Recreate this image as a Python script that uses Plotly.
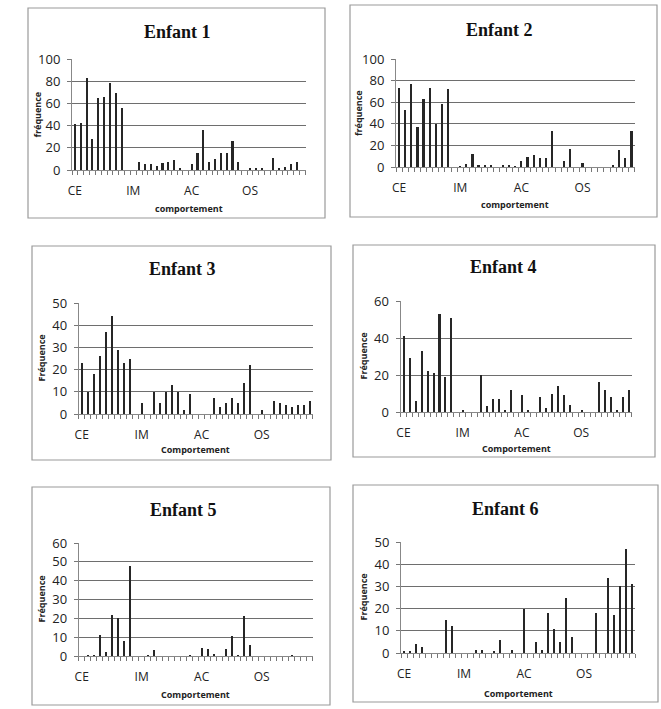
import plotly.graph_objects as go

W, H = 661, 709

tick_labels = ["CE", "IM", "AC", "OS"]
tick_cats = [1, 11, 21, 31]

enfant1 = [41, 42, 83, 28, 65, 66, 78, 69, 56, 0,
           0, 7, 5, 5, 4, 6, 7, 9, 1, 0,
           5, 15, 36, 7, 10, 15, 15, 26, 7, 0,
           2, 2, 1, 0, 11, 2, 3, 5, 7, 0]
enfant2 = [73, 53, 77, 37, 63, 73, 40, 58, 72, 0,
           0.5, 3, 12, 1.5, 1.5, 1.5, 0, 1, 1, 0.5,
           6, 9, 11, 8, 8, 33, 0, 6, 17, 0,
           4, 0, 0, 0, 0, 1, 16, 8, 33]
enfant3 = [23, 10, 18, 26, 37, 44, 29, 23, 25, 0,
           5, 0, 10, 5, 10, 13, 10, 2, 9, 0,
           0, 0, 7, 3, 5, 7, 5, 14, 22, 0,
           2, 0, 6, 5, 4, 3, 4, 4, 6]
enfant4 = [41, 29, 6, 33, 22, 21, 53, 19, 51, 0,
           1, 0, 0, 20, 3, 7, 7, 1, 12, 0,
           9, 1, 0, 8, 2, 10, 14, 9, 4, 0,
           1, 0, 0, 16, 12, 8, 1, 8, 12]
enfant5 = [0, 0.5, 0.5, 11, 2, 22, 20, 8, 48, 0,
           0, 0.5, 3, 0, 0, 0, 0, 0, 0.5, 0,
           4, 3.5, 1, 0, 3.5, 10.5, 0.5, 21.5, 6, 0,
           0, 0, 0, 0, 0, 0.5, 0, 0, 0]
enfant6 = [0.5, 0.5, 4, 2.5, 0, 0, 0, 15, 12, 0,
           0, 0, 1.5, 1.5, 0, 0.5, 6, 0, 1.5, 0,
           20, 0, 5, 1.5, 18, 11, 5, 25, 7, 0,
           0, 0, 18, 0, 34, 17, 30, 47, 31]

titles = ["Enfant 1", "Enfant 2", "Enfant 3", "Enfant 4", "Enfant 5", "Enfant 6"]
ytitles = ["fréquence", "fréquence", "Fréquence", "Fréquence", "Fréquence", "Fréquence"]
xtitles = ["comportement", "comportement", "Comportement", "Comportement", "Comportement", "Comportement"]
series = [enfant1, enfant2, enfant3, enfant4, enfant5, enfant6]
yranges = [(100, 20), (100, 20), (50, 10), (60, 20), (60, 10), (50, 10)]

# layout geometry in pixels: box (x0,y0,x1,y1), plot (x0,x1,ytop,ybottom), title x,y, xtitle y, ytitle x
panels = [
    dict(box=(28, 8, 325, 218), plot=(72, 305.5, 59, 170), tx=177, ty=32, xty=208, ytx=37),
    dict(box=(350, 5, 657, 217), plot=(396, 634.5, 59, 167), tx=500, ty=30, xty=204, ytx=359),
    dict(box=(32, 246, 331, 460), plot=(78.7, 312.7, 303, 414), tx=182, ty=269, xty=449, ytx=41),
    dict(box=(353, 245, 655, 457), plot=(400.5, 631.5, 301, 412), tx=503, ty=267, xty=448, ytx=363),
    dict(box=(32, 487, 330, 705), plot=(78.7, 312.7, 543, 656), tx=183, ty=510, xty=694, ytx=41),
    dict(box=(353, 485, 658, 702), plot=(401, 635, 542, 653), tx=505, ty=509, xty=693, ytx=363),
]

fig = go.Figure()
shapes, annotations = [], []
fx = lambda px: px / W
fy = lambda py: 1 - py / H

for i, (vals, p) in enumerate(zip(series, panels)):
    k = i + 1
    xa = "x" if k == 1 else f"x{k}"
    ya = "y" if k == 1 else f"y{k}"
    n = len(vals)
    cats = list(range(1, n + 1))
    fig.add_trace(go.Bar(x=cats, y=vals, xaxis=xa, yaxis=ya, width=0.36,
                         marker=dict(color="#262626", line=dict(width=0)),
                         showlegend=False, hoverinfo="x+y"))
    x0, x1, yt, yb = p["plot"]
    ymax, dt = yranges[i]
    xkey = "xaxis" if k == 1 else f"xaxis{k}"
    ykey = "yaxis" if k == 1 else f"yaxis{k}"
    fig.layout[xkey] = dict(domain=[fx(x0), fx(x1)], anchor=ya, range=[0.5, n + 0.5],
                            tickmode="array", tickvals=tick_cats, ticktext=tick_labels,
                            ticks="", showgrid=False, showline=True, linecolor="#888",
                            linewidth=1, zeroline=False, automargin=False,
                            tickfont=dict(family="Open Sans", size=12, color="#222"),
                            ticklabelstandoff=10,
                            minor=dict(tickmode="linear", tick0=0.5, dtick=1, ticks="outside",
                                       ticklen=4, tickcolor="#777", tickwidth=1, showgrid=False),
                            fixedrange=True)
    fig.layout[ykey] = dict(domain=[fy(yb), fy(yt)], anchor=xa, range=[0, ymax],
                            tickmode="linear", tick0=0, dtick=dt, showgrid=True,
                            gridcolor="#6e6e6e", gridwidth=1, showline=True,
                            linecolor="#888", linewidth=1, ticks="outside", ticklen=4,
                            tickcolor="#777", zeroline=False, automargin=False,
                            ticklabelstandoff=4,
                            tickfont=dict(family="Open Sans", size=13, color="#222"),
                            fixedrange=True)
    bx0, by0, bx1, by1 = p["box"]
    shapes.append(dict(type="rect", xref="paper", yref="paper", x0=fx(bx0), x1=fx(bx1),
                       y0=fy(by1), y1=fy(by0), line=dict(color="#9a9a9a", width=1.2),
                       fillcolor="rgba(0,0,0,0)", layer="below"))
    annotations.append(dict(text=f"<b>{titles[i]}</b>", xref="paper", yref="paper",
                            x=fx(p["tx"]), y=fy(p["ty"]),
                            xanchor="center", yanchor="middle", showarrow=False,
                            font=dict(family="Liberation Serif", size=18, color="#111")))
    annotations.append(dict(text=f"<b>{xtitles[i]}</b>", xref="paper", yref="paper",
                            x=fx((x0 + x1) / 2), y=fy(p["xty"]), xanchor="center",
                            yanchor="middle", showarrow=False,
                            font=dict(family="Open Sans", size=9, color="#222")))
    annotations.append(dict(text=f"<b>{ytitles[i]}</b>", xref="paper", yref="paper",
                            x=fx(p["ytx"]), y=fy((yt + yb) / 2), xanchor="center",
                            yanchor="middle", showarrow=False, textangle=-90,
                            font=dict(family="Open Sans", size=9, color="#222")))

fig.update_layout(width=W, height=H,
                  margin=dict(l=0, r=0, t=0, b=0, pad=0, autoexpand=False),
                  paper_bgcolor="white", plot_bgcolor="white",
                  shapes=shapes, annotations=annotations, bargap=0)
fig.write_html("out.html", config={"displayModeBar": False},
               post_script="document.body.style.margin='0';document.body.style.overflow='hidden';")
